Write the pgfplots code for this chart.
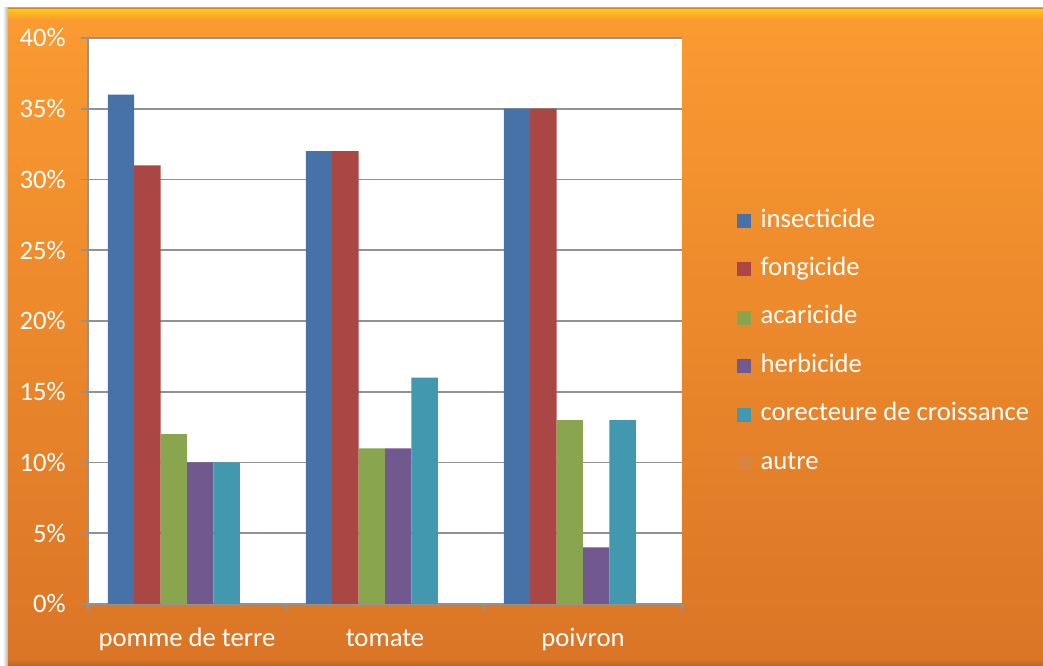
\documentclass[border=0pt]{standalone}
\usepackage{fontspec}
\setmainfont{Carlito}
\usepackage{pgfplots}
\pgfplotsset{compat=1.18}

\definecolor{cInsect}{HTML}{4672A8}
\definecolor{cFong}{HTML}{AA4643}
\definecolor{cAcar}{HTML}{89A54E}
\definecolor{cHerb}{HTML}{71588F}
\definecolor{cCorr}{HTML}{4198AF}
\definecolor{cAutre}{HTML}{D9843F}
\definecolor{bgTop}{HTML}{FB9B31}
\definecolor{bgBot}{HTML}{DA7526}
\definecolor{gridGray}{HTML}{929292}

\begin{document}
\begin{tikzpicture}
% page frame and orange panel
\useasboundingbox (0,0) rectangle (782.25pt,499.5pt);
\fill[white] (0,0) rectangle (782.25pt,499.5pt);
\shade[left color=white, right color=black!30] (2pt,0) rectangle (6pt,493.5pt);
\shade[top color=bgTop, bottom color=bgBot] (6pt,0) rectangle (782.25pt,493.5pt);
\shade[top color=bgBot, bottom color=bgBot!85!black] (6pt,5pt) rectangle (782.25pt,0pt);
\shade[top color=yellow!45!bgTop, bottom color=bgTop] (6pt,492.5pt) rectangle (782.25pt,485pt);
\fill[bgTop!85!black] (6pt,493.5pt) rectangle (782.25pt,492.5pt);

\begin{axis}[
  at={(66pt,46.5pt)}, anchor=south west,
  scale only axis,
  width=445.5pt, height=424.5pt,
  xmin=-0.5, xmax=2.5,
  ymin=0, ymax=40,
  axis x line*=bottom, axis y line*=left,
  axis line style={draw=gridGray, line width=1.4pt, -},
  axis background/.style={fill=white},
  ymajorgrids,
  grid style={draw=gridGray, line width=1.4pt},
  tick align=outside,
  major tick length=5.25pt,
  tick style={draw=gridGray, line width=1.4pt},
  ytick={0,5,10,15,20,25,30,35,40},
  yticklabels={0\%,5\%,10\%,15\%,20\%,25\%,30\%,35\%,40\%},
  xtick={-0.5,0.5,1.5,2.5},
  xticklabels={},
  extra x ticks={0,1,2},
  extra x tick labels={pomme de terre,tomate,poivron},
  extra x tick style={major tick length=0pt, grid=none},
  tick label style={font=\fontsize{20}{24}\selectfont, text=white},
  yticklabel style={inner sep=0pt, anchor=east, xshift=-11.25pt},
  xticklabel style={inner sep=0pt, anchor=base, yshift=-32pt},
  ybar,
  bar width=0.1333,
  legend image code/.code={\fill[#1] (0pt,-5.25pt) rectangle (10.5pt,5.25pt);},
  legend cell align=left,
  legend style={
    at={(1.0926,0.4627)}, anchor=west,
    draw=none, fill=none, inner sep=0pt,
    font=\fontsize{20}{24}\selectfont, text=white,
    row sep=19.3pt, column sep=7pt,
    nodes={inner sep=0pt, text height=13pt, text depth=4pt},
  },
]
\addplot[fill=cInsect, draw=none, bar shift=-0.3333] coordinates {(0,36) (1,32) (2,35)};
\addplot[fill=cFong,   draw=none, bar shift=-0.2]    coordinates {(0,31) (1,32) (2,35)};
\addplot[fill=cAcar,   draw=none, bar shift=-0.0667] coordinates {(0,12) (1,11) (2,13)};
\addplot[fill=cHerb,   draw=none, bar shift=0.0667]  coordinates {(0,10) (1,11) (2,4)};
\addplot[fill=cCorr,   draw=none, bar shift=0.2]     coordinates {(0,10) (1,16) (2,13)};
\addplot[fill=cAutre,  draw=none, bar shift=0.3333]  coordinates {(0,0) (1,0) (2,0)};
\legend{insecticide,fongicide,acaricide,herbicide,corecteure de croissance,autre}
\end{axis}
\end{tikzpicture}
\end{document}
